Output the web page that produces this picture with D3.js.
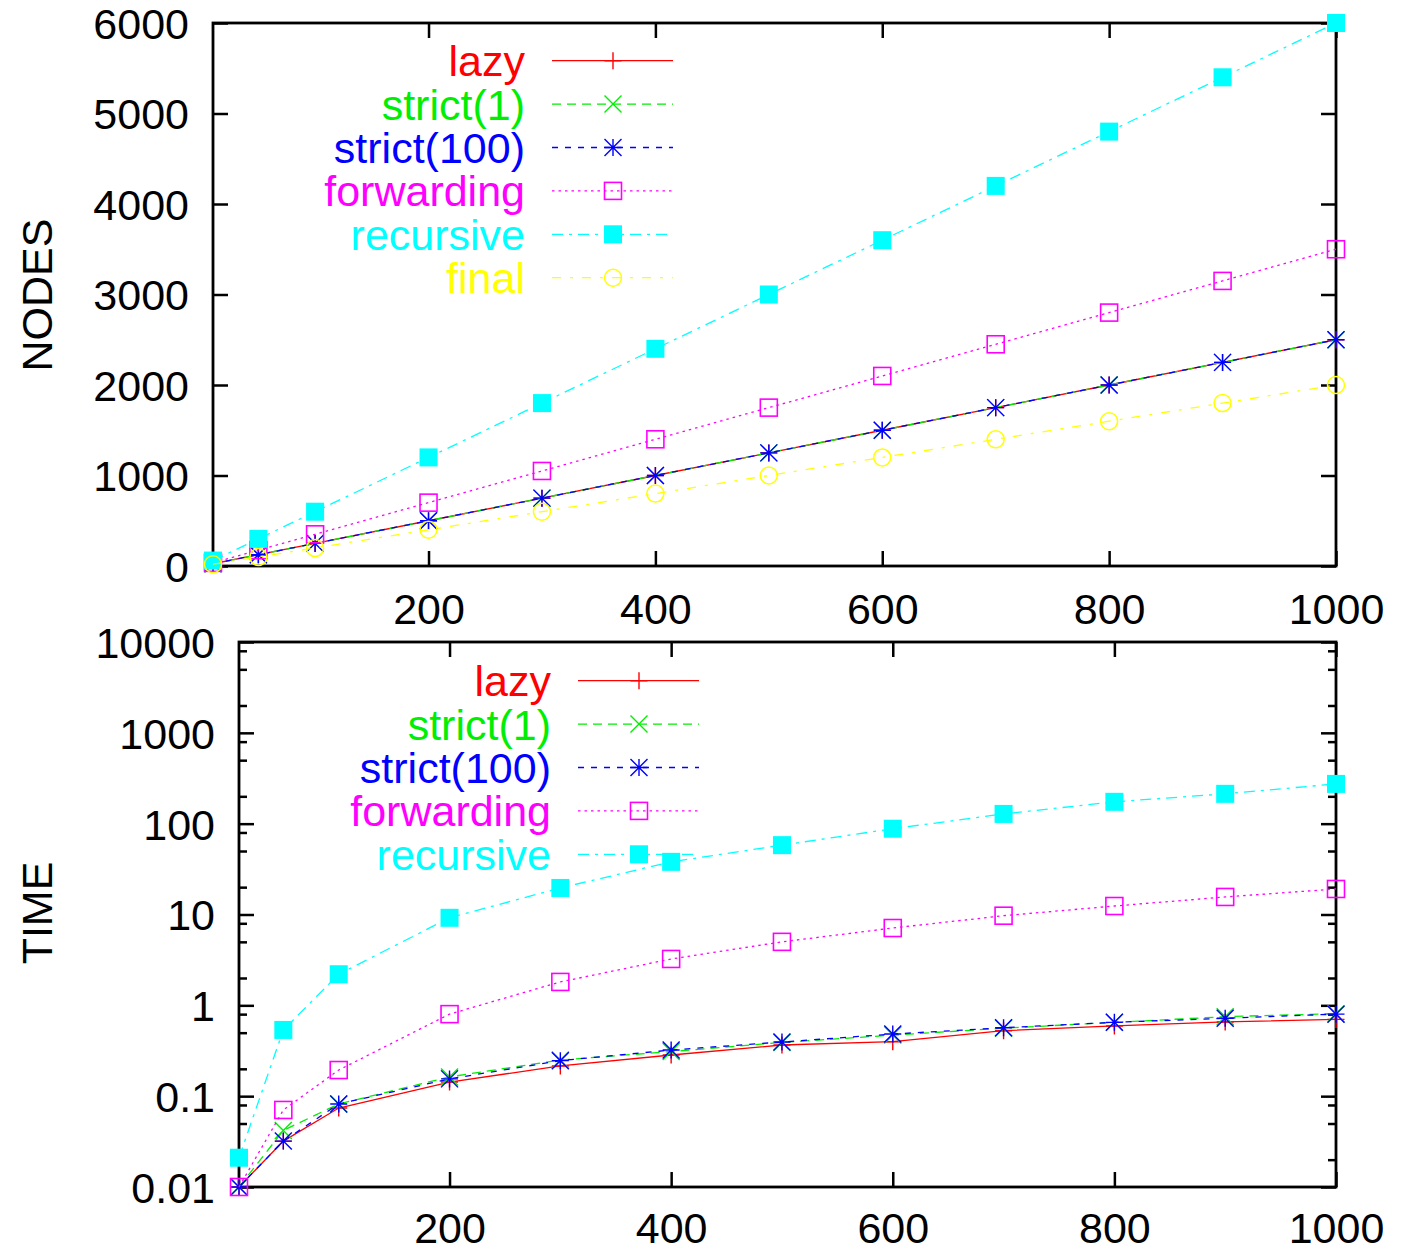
<!DOCTYPE html>
<html>
<head>
<meta charset="utf-8">
<script src="https://cdn.jsdelivr.net/npm/d3@7"></script>
<style>
  body { margin: 0; background: #fff; }
  svg text { font-family: "Liberation Sans", Arial, Helvetica, sans-serif; }
</style>
</head>
<body>
<div id="container"></div>
<script>
// valores de x (tamano)
var xs = [10, 50, 100, 200, 300, 400, 500, 600, 700, 800, 900, 1000];

// panel de arriba: NODES
var nodesLazy = [25, 125, 250, 500, 750, 1000, 1250, 1500, 1750, 2000, 2250, 2500];
var nodesStrict1 = [25, 125, 250, 500, 750, 1000, 1250, 1500, 1750, 2000, 2250, 2500];
var nodesStrict100 = [25, 125, 250, 500, 750, 1000, 1250, 1500, 1750, 2000, 2250, 2500];
var nodesForwarding = [35, 175, 350, 700, 1050, 1400, 1750, 2100, 2450, 2800, 3150, 3500];
var nodesRecursive = [60, 300, 600, 1200, 1800, 2400, 3000, 3600, 4200, 4800, 5400, 6000];
var nodesFinal = [20, 100, 200, 400, 600, 800, 1000, 1200, 1400, 1600, 1800, 2000];

// panel de abajo: TIME (log)
var timeLazy = [0.01, 0.032, 0.074, 0.143, 0.215, 0.284, 0.366, 0.398, 0.526, 0.593, 0.656, 0.70];
var timeStrict1 = [0.01, 0.042, 0.082, 0.163, 0.25, 0.31, 0.39, 0.47, 0.56, 0.65, 0.75, 0.81];
var timeStrict100 = [0.01, 0.032, 0.082, 0.155, 0.246, 0.322, 0.395, 0.483, 0.567, 0.65, 0.72, 0.80];
var timeForwarding = [0.01, 0.0705, 0.194, 0.80, 1.81, 3.24, 5.0, 7.1, 9.7, 12.4, 15.6, 19.1];
var timeRecursive = [0.021, 0.536, 2.2, 9.2, 19.6, 38, 58, 88, 128, 174, 213, 274];

var xTicks = [200, 400, 600, 800, 1000];
var nodesTicks = [0, 1000, 2000, 3000, 4000, 5000, 6000];
var timeTicks = [0.01, 0.1, 1, 10, 100, 1000, 10000];
var minorSteps = [2, 5, 8];

// estilos de cada serie (como gnuplot)
var styles = {
    "lazy":       { color: "#ff0000", dash: null,        mark: "plus" },
    "strict(1)":  { color: "#00ee00", dash: "9,6",       mark: "cross" },
    "strict(100)":{ color: "#0000ff", dash: "6,7",       mark: "star" },
    "forwarding": { color: "#ff00ff", dash: "2.5,4",     mark: "square" },
    "recursive":  { color: "#00ffff", dash: "11,6,3,6",  mark: "fsquare" },
    "final":      { color: "#ffff00", dash: "9,9,3,9",   mark: "circle" }
};

var nodesSeries = [
    { name: "lazy", values: nodesLazy },
    { name: "strict(1)", values: nodesStrict1 },
    { name: "strict(100)", values: nodesStrict100 },
    { name: "forwarding", values: nodesForwarding },
    { name: "recursive", values: nodesRecursive },
    { name: "final", values: nodesFinal }
];

var timeSeries = [
    { name: "lazy", values: timeLazy },
    { name: "strict(1)", values: timeStrict1 },
    { name: "strict(100)", values: timeStrict100 },
    { name: "forwarding", values: timeForwarding },
    { name: "recursive", values: timeRecursive }
];

var W = 1403, H = 1252;
var fontSize = 43;

var svg = d3.select("#container").append("svg")
    .attr("width", W)
    .attr("height", H);

svg.append("rect").attr("width", W).attr("height", H).attr("fill", "#fff");

// dibujar un marcador
function marker(g, type, x, y, color) {
    var s = 8.5;
    if (type === "plus") {
        g.append("path").attr("d", "M" + (x - s) + "," + y + "H" + (x + s) + "M" + x + "," + (y - s) + "V" + (y + s))
            .attr("stroke", color).attr("stroke-width", 1.4).attr("fill", "none");
    } else if (type === "cross") {
        g.append("path").attr("d", "M" + (x - s) + "," + (y - s) + "L" + (x + s) + "," + (y + s) +
                "M" + (x - s) + "," + (y + s) + "L" + (x + s) + "," + (y - s))
            .attr("stroke", color).attr("stroke-width", 1.4).attr("fill", "none");
    } else if (type === "star") {
        g.append("path").attr("d", "M" + (x - s) + "," + y + "H" + (x + s) + "M" + x + "," + (y - s) + "V" + (y + s) +
                "M" + (x - s) + "," + (y - s) + "L" + (x + s) + "," + (y + s) +
                "M" + (x - s) + "," + (y + s) + "L" + (x + s) + "," + (y - s))
            .attr("stroke", color).attr("stroke-width", 1.4).attr("fill", "none");
    } else if (type === "square") {
        g.append("rect").attr("x", x - 8.5).attr("y", y - 8.5).attr("width", 17).attr("height", 17)
            .attr("stroke", color).attr("stroke-width", 1.6).attr("fill", "none");
    } else if (type === "fsquare") {
        g.append("rect").attr("x", x - 9).attr("y", y - 9).attr("width", 18).attr("height", 18)
            .attr("fill", color);
    } else if (type === "circle") {
        g.append("circle").attr("cx", x).attr("cy", y).attr("r", 8.5)
            .attr("stroke", color).attr("stroke-width", 1.5).attr("fill", "none");
    }
}

function panel(opt) {
    var x = d3.scaleLinear().domain([10, 1000]).range([opt.left, opt.right]);
    var y = opt.log
        ? d3.scaleLog().domain([0.01, 10000]).range([opt.bottom, opt.top])
        : d3.scaleLinear().domain([0, 6000]).range([opt.bottom, opt.top]);

    var g = svg.append("g");
    var major = 15, minor = 8;

    // ejes con ticks hacia dentro
    var yLeft = d3.axisLeft(y).tickValues(opt.yTicks).tickSize(-major).tickFormat(function (d) { return String(d); });
    var yRight = d3.axisRight(y).tickValues(opt.yTicks).tickSize(-major).tickFormat("");
    var xBottom = d3.axisBottom(x).tickValues(xTicks).tickSize(-major).tickFormat(function (d) { return String(d); });
    var xTop = d3.axisTop(x).tickValues(xTicks).tickSize(-major).tickFormat("");

    var axes = [
        g.append("g").attr("transform", "translate(" + opt.left + ",0)").call(yLeft),
        g.append("g").attr("transform", "translate(" + opt.right + ",0)").call(yRight),
        g.append("g").attr("transform", "translate(0," + opt.bottom + ")").call(xBottom),
        g.append("g").attr("transform", "translate(0," + opt.top + ")").call(xTop)
    ];
    axes.forEach(function (a) {
        a.select(".domain").remove();
        a.selectAll(".tick line").attr("stroke", "#000").attr("stroke-width", 2.5);
        a.selectAll("text").attr("font-size", fontSize).attr("fill", "#000")
            .attr("font-family", "Liberation Sans, Arial, sans-serif");
    });
    axes[0].selectAll("text").attr("x", -24).attr("dy", "0.36em");
    axes[2].selectAll("text").attr("y", opt.xLabelY - opt.bottom).attr("dy", 0);

    // ticks menores en log (2, 5, 8 de cada decada)
    if (opt.log) {
        var minors = [];
        for (var e = -2; e < 4; e++) {
            minorSteps.forEach(function (k) { minors.push(k * Math.pow(10, e)); });
        }
        var yMinL = d3.axisLeft(y).tickValues(minors).tickSize(-minor).tickFormat("");
        var yMinR = d3.axisRight(y).tickValues(minors).tickSize(-minor).tickFormat("");
        [g.append("g").attr("transform", "translate(" + opt.left + ",0)").call(yMinL),
         g.append("g").attr("transform", "translate(" + opt.right + ",0)").call(yMinR)].forEach(function (a) {
            a.select(".domain").remove();
            a.selectAll(".tick line").attr("stroke", "#000").attr("stroke-width", 2.5);
        });
    }

    // borde
    g.append("rect")
        .attr("x", opt.left).attr("y", opt.top)
        .attr("width", opt.right - opt.left).attr("height", opt.bottom - opt.top)
        .attr("fill", "none").attr("stroke", "#000").attr("stroke-width", 2.8);

    // titulo del eje
    g.append("text")
        .attr("transform", "translate(52," + opt.labelY + ") rotate(-90)")
        .attr("text-anchor", "middle")
        .attr("font-size", fontSize)
        .text(opt.label);

    var line = d3.line()
        .x(function (d, i) { return x(xs[i]); })
        .y(function (d) { return y(d); });

    // series
    opt.series.forEach(function (s) {
        var st = styles[s.name];
        var sg = g.append("g");
        sg.append("path")
            .attr("d", line(s.values))
            .attr("fill", "none")
            .attr("stroke", st.color)
            .attr("stroke-width", 1.3)
            .attr("stroke-dasharray", st.dash);
        s.values.forEach(function (v, i) {
            marker(sg, st.mark, x(xs[i]), y(v), st.color);
        });
    });

    // leyenda
    opt.series.forEach(function (s, i) {
        var st = styles[s.name];
        var ly = opt.legY + i * 43.4;
        var lg = g.append("g");
        lg.append("text")
            .attr("x", opt.legX)
            .attr("y", ly)
            .attr("dy", "0.36em")
            .attr("text-anchor", "end")
            .attr("font-size", fontSize)
            .attr("fill", st.color)
            .text(s.name);
        lg.append("line")
            .attr("x1", opt.legX + 27).attr("x2", opt.legX + 148)
            .attr("y1", ly).attr("y2", ly)
            .attr("stroke", st.color)
            .attr("stroke-width", 1.3)
            .attr("stroke-dasharray", st.dash);
        marker(lg, st.mark, opt.legX + 88, ly, st.color);
    });
}

panel({
    left: 213, right: 1336, top: 23, bottom: 566,
    log: false, yTicks: nodesTicks, xLabelY: 624,
    label: "NODES", labelY: 295,
    series: nodesSeries, legX: 525, legY: 60.7
});

panel({
    left: 239, right: 1336, top: 642, bottom: 1187,
    log: true, yTicks: timeTicks, xLabelY: 1243,
    label: "TIME", labelY: 913,
    series: timeSeries, legX: 551, legY: 680.7
});
</script>
</body>
</html>
